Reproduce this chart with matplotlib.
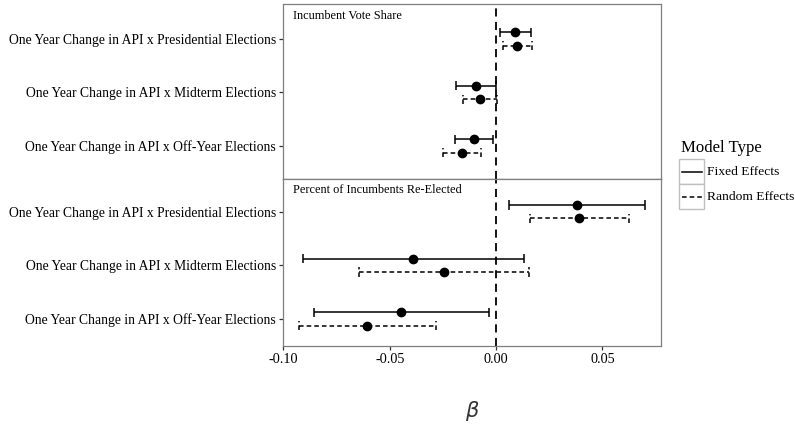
import numpy as np
import matplotlib
matplotlib.use("Agg")
import matplotlib.pyplot as plt
from matplotlib.lines import Line2D
from matplotlib.patches import Rectangle

plt.rcParams["font.family"] = ["Liberation Serif", "DejaVu Serif"]

# data (coefficients and interval ends)
categories = [
    "One Year Change in API x Presidential Elections",
    "One Year Change in API x Midterm Elections",
    "One Year Change in API x Off-Year Elections",
]
panel_titles = ["Incumbent Vote Share", "Percent of Incumbents Re-Elected"]

vote_fixed_est = [0.0091, -0.0093, -0.0105]
vote_fixed_lo = [0.0017, -0.0188, -0.0194]
vote_fixed_hi = [0.0166, -0.0002, -0.0013]
vote_random_est = [0.0100, -0.0074, -0.0160]
vote_random_lo = [0.0031, -0.0155, -0.0248]
vote_random_hi = [0.0169, 0.0005, -0.0069]

reel_fixed_est = [0.0380, -0.0389, -0.0445]
reel_fixed_lo = [0.0061, -0.0908, -0.0858]
reel_fixed_hi = [0.0699, 0.0130, -0.0033]
reel_random_est = [0.0392, -0.0246, -0.0605]
reel_random_lo = [0.0160, -0.0644, -0.0927]
reel_random_hi = [0.0624, 0.0157, -0.0284]

x_ticks = [-0.10, -0.05, 0.00, 0.05]
x_tick_labels = ["-0.10", "-0.05", "0.00", "0.05"]

W, H = 795, 424
fig = plt.figure(figsize=(W / 100, H / 100), dpi=100)


def px_axes(left, top, right, bottom):
    return fig.add_axes([left / W, 1 - bottom / H, (right - left) / W, (bottom - top) / H])


ax_top = px_axes(283, 4, 661, 179)
ax_bot = px_axes(283, 179, 661, 346)

dash = (0, (3, 2))
dodge = 0.125
cap = 0.085
ypos = np.array([3, 2, 1])

panels = [
    (ax_top, (vote_fixed_est, vote_fixed_lo, vote_fixed_hi),
     (vote_random_est, vote_random_lo, vote_random_hi), (0.383, 3.654)),
    (ax_bot, (reel_fixed_est, reel_fixed_lo, reel_fixed_hi),
     (reel_random_est, reel_random_lo, reel_random_hi), (0.496, 3.61)),
]

for i, (ax, fixed, random, ylim) in enumerate(panels):
    ax.axvline(0, color="black", lw=1.3, ls=(0, (4.5, 3)), zorder=1)
    for (est, lo, hi), off, ls in [(fixed, dodge, "-"), (random, -dodge, dash)]:
        y = ypos + off
        ax.hlines(y, lo, hi, color="black", lw=1.1, linestyles=ls, zorder=2)
        ax.vlines(lo, y - cap, y + cap, color="black", lw=1.1, linestyles=ls, zorder=2)
        ax.vlines(hi, y - cap, y + cap, color="black", lw=1.1, linestyles=ls, zorder=2)
        ax.plot(est, y, "o", color="black", ms=6, zorder=3)

    ax.set_xlim(-0.1002, 0.0776)
    ax.set_ylim(*ylim)
    ax.set_yticks(ypos)
    ax.set_yticklabels(categories, fontsize=9.85)
    ax.set_xticks(x_ticks)
    ax.tick_params(axis="both", length=3, width=0.9, color="#333333", pad=2)
    for s in ax.spines.values():
        s.set_color("#7f7f7f")
        s.set_linewidth(0.9)
    ax.text(0.026, 0.93 if i == 0 else 0.935, panel_titles[i], transform=ax.transAxes,
            fontsize=8.8, va="center", ha="left")

ax_top.spines["bottom"].set_color("#333333")
ax_top.tick_params(axis="x", bottom=False, labelbottom=False)
ax_bot.set_xticklabels(x_tick_labels, fontsize=10.3)

# x-axis title
fig.text(472 / W, 1 - 411 / H, r"$\beta$", fontsize=15, ha="center", va="center",
         color="#333333")

# legend drawn by hand
fig.text(681 / W, 1 - 148 / H, "Model Type", fontsize=12.1, ha="left", va="center")
for k, (lab, ls) in enumerate([("Fixed Effects", "-"), ("Random Effects", dash)]):
    top = 159.3 + k * 24.8
    fig.patches.append(Rectangle((679 / W, 1 - (top + 24.8) / H), 24.8 / W, 24.8 / H,
                                 transform=fig.transFigure, facecolor="white",
                                 edgecolor="#bfbfbf", lw=1.0))
    yc = 1 - (top + 12.6) / H
    fig.lines.append(Line2D([681.5 / W, 701.5 / W], [yc, yc], transform=fig.transFigure,
                            color="black", lw=1.1, ls=ls))
    fig.text(707 / W, yc, lab, fontsize=9.7, ha="left", va="center")

fig.savefig("out.png", dpi=100)
